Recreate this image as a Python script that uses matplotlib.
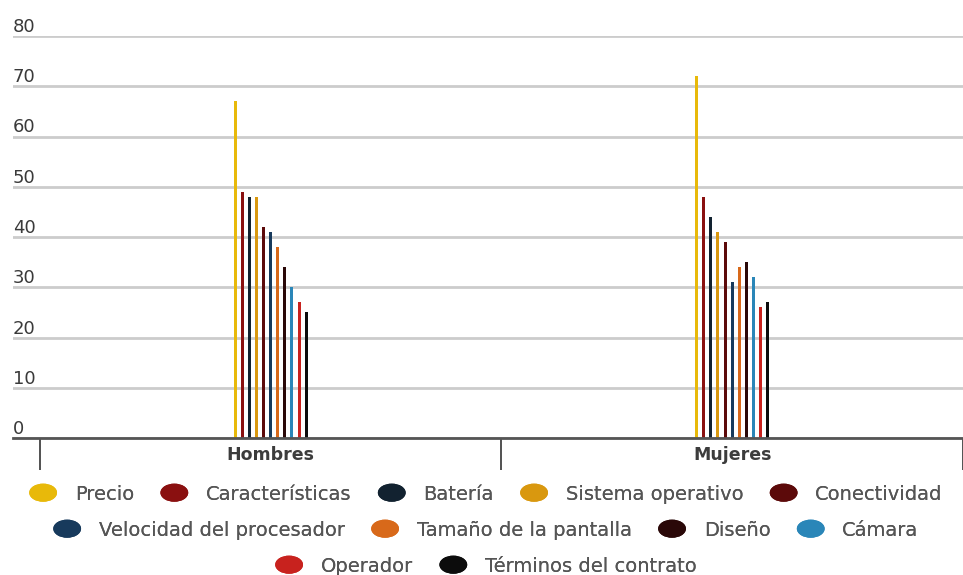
import matplotlib
matplotlib.use("Agg")
import matplotlib.pyplot as plt
import matplotlib.transforms as mtransforms
from matplotlib.patches import Ellipse
from matplotlib.legend_handler import HandlerPatch
import numpy as np

categories = ["Hombres", "Mujeres"]
series_names = [
    "Precio", "Características", "Batería", "Sistema operativo", "Conectividad",
    "Velocidad del procesador", "Tamaño de la pantalla", "Diseño", "Cámara",
    "Operador", "Términos del contrato",
]
hombres = [67, 49, 48, 48, 42, 41, 38, 34, 30, 27, 25]
mujeres = [72, 48, 44, 41, 39, 31, 34, 35, 32, 26, 27]
colors = [
    "#e8b90a", "#8a1010", "#122230", "#d9980f", "#5c0a0a",
    "#173a5c", "#d8691a", "#2a0808", "#2a86b8", "#c8221e", "#0c0c0c",
]
y_ticks = [0, 10, 20, 30, 40, 50, 60, 70, 80]

plt.rcParams["font.family"] = ["DejaVu Sans"]

fig = plt.figure(figsize=(9.63, 5.75), dpi=100)
ax = fig.add_axes([13 / 963, 1 - 438 / 575, 950 / 963, (438 - 36) / 575])

x = np.arange(len(categories))
step = 0.0154
bar_w = 0.0065
n = len(series_names)
for i, (name, col) in enumerate(zip(series_names, colors)):
    vals = [hombres[i], mujeres[i]]
    ax.bar(x + (i - (n - 1) / 2) * step, vals, width=bar_w, color=col,
           label=name, zorder=3)

ax.set_xlim(-0.558, 1.476)
ax.set_ylim(0, 80)

# horizontal grid lines, with the value written just above each line
ax.set_yticks(y_ticks)
ax.yaxis.grid(True, color="#cccccc", linewidth=2, zorder=0)
ax.tick_params(axis="y", length=0, labelleft=False)
trans = mtransforms.blended_transform_factory(ax.transAxes, ax.transData)
for v in y_ticks:
    ax.text(0.0, v, str(v), transform=trans, ha="left", va="bottom",
            fontsize=13, color="#3a3a3a")

for s in ["top", "right", "left"]:
    ax.spines[s].set_visible(False)
ax.spines["bottom"].set_color("#555555")
ax.spines["bottom"].set_linewidth(2)
ax.spines["bottom"].set_zorder(4)

ax.set_xticks(x)
ax.set_xticklabels(categories, fontsize=12.5, color="#3c3c3c", fontweight="bold")
ax.tick_params(axis="x", which="major", length=0, pad=6)
ax.set_xticks([-0.5, 0.5, 1.5], minor=True)
ax.tick_params(axis="x", which="minor", length=23, width=1.2, color="#333333")


class HandlerEllipse(HandlerPatch):
    def create_artists(self, legend, orig_handle, xdescent, ydescent,
                       width, height, fontsize, trans):
        center = 0.5 * width - 0.5 * xdescent, 0.5 * height - 0.5 * ydescent
        p = Ellipse(xy=center, width=19, height=12)
        self.update_prop(p, orig_handle, legend)
        p.set_transform(trans)
        return [p]


handles = [Ellipse((0, 0), 1, 1, facecolor=c, edgecolor=c) for c in colors]
rows = [(0, 5, 494), (5, 9, 530), (9, 11, 566)]
for a, b, ypix in rows:
    leg = fig.legend(handles[a:b], series_names[a:b], ncol=b - a,
                     loc="center", bbox_to_anchor=(0.505, 1 - ypix / 575),
                     frameon=False, fontsize=14, labelcolor="#555555",
                     handler_map={Ellipse: HandlerEllipse()},
                     handlelength=1.35, handletextpad=0.95, columnspacing=1.4,
                     borderpad=0, borderaxespad=0)
    fig.add_artist(leg)

fig.savefig("out.png", dpi=100, facecolor="white")
